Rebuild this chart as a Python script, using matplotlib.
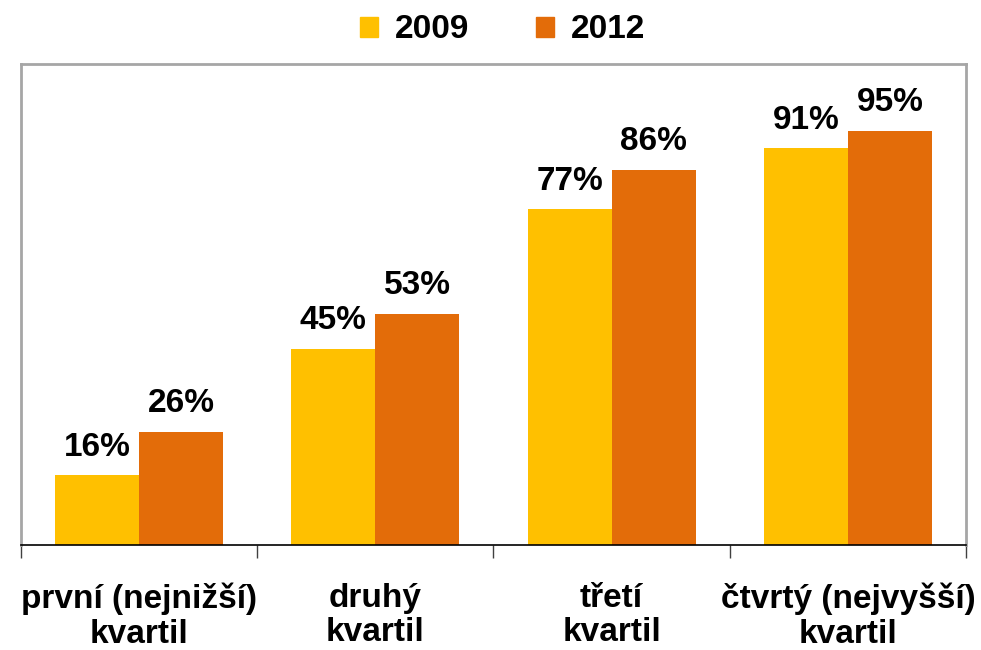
import numpy as np
import matplotlib.pyplot as plt
from matplotlib.patches import Patch

plt.rcParams['font.family'] = ['Liberation Sans', 'DejaVu Sans']

categories = ["první (nejnižší)\nkvartil", "druhý\nkvartil", "třetí\nkvartil",
              "čtvrtý (nejvyšší)\nkvartil"]
series = ["2009", "2012"]
vals_2009 = [16, 45, 77, 91]
vals_2012 = [26, 53, 86, 95]
colors = ["#FFC000", "#E36C09"]

fig = plt.figure(figsize=(9.81, 6.5), dpi=100)
ax = fig.add_axes([0.0214, 0.1615, 0.9633, 0.74])

x = np.arange(len(categories))
w = 0.356
b1 = ax.bar(x - w / 2, vals_2009, w, color=colors[0])
b2 = ax.bar(x + w / 2, vals_2012, w, color=colors[1])

for bars, vals in ((b1, vals_2009), (b2, vals_2012)):
    for r, v in zip(bars, vals):
        ax.annotate(f"{v}%", (r.get_x() + r.get_width() / 2, v),
                    xytext=(0, 9), textcoords="offset points",
                    ha="center", va="bottom", fontsize=24, fontweight="bold")

ax.set_xlim(-0.5, len(categories) - 0.5)
ax.set_ylim(0, 110.3)
ax.set_yticks([])
ax.set_xticks(np.arange(len(categories) + 1) - 0.5)
ax.set_xticklabels([])
ax.set_xticks(x, minor=True)
ax.set_xticklabels(categories, minor=True, fontsize=24, fontweight="bold",
                   linespacing=1.15)
ax.tick_params(axis="x", which="major", length=9, color="#404040", width=1)
ax.tick_params(axis="x", which="minor", length=0, pad=27)

for s in ("top", "left", "right"):
    ax.spines[s].set_color("#A6A6A6")
    ax.spines[s].set_linewidth(2)
ax.spines["bottom"].set_color("black")
ax.spines["bottom"].set_linewidth(1.2)

handles = [Patch(color=c, label=s) for c, s in zip(colors, series)]
fig.legend(handles=handles, loc="center", bbox_to_anchor=(0.512, 0.954), ncol=2,
           frameon=False, prop={"size": 24, "weight": "bold"},
           handlelength=0.55, handleheight=0.55, handletextpad=0.5,
           columnspacing=2.0)

fig.savefig("out.png", dpi=100)
